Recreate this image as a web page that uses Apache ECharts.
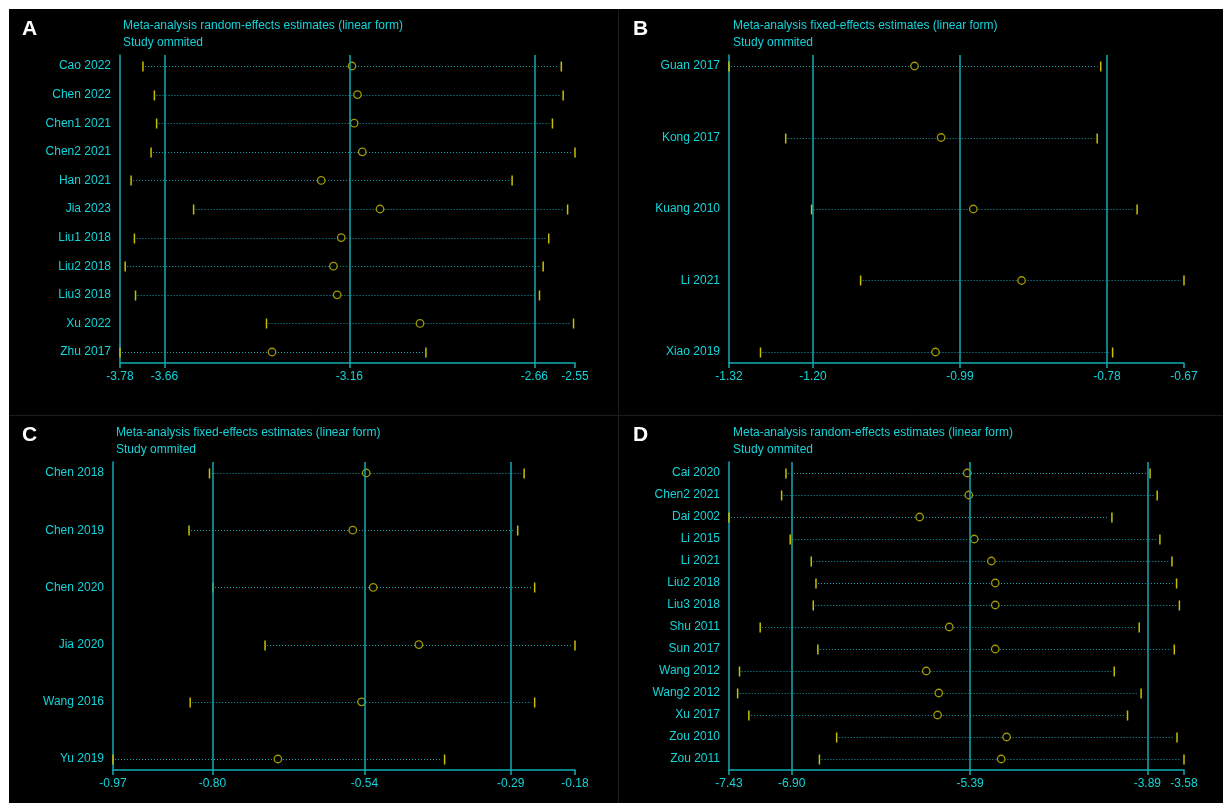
<!DOCTYPE html>
<html>
<head>
<meta charset="utf-8">
<script src="https://cdn.jsdelivr.net/npm/echarts@6/dist/echarts.min.js"></script>
<style>
  html, body { margin: 0; padding: 0; background: #fff; }
  #chart { width: 1223px; height: 803px; }
</style>
</head>
<body>
<div id="chart"></div>
<script>
// ---- Panel A: random-effects, study omitted ----
const namesA = ['Cao 2022', 'Chen 2022', 'Chen1 2021', 'Chen2 2021', 'Han 2021', 'Jia 2023',
                'Liu1 2018', 'Liu2 2018', 'Liu3 2018', 'Xu 2022', 'Zhu 2017'];
const lowA  = [-3.718, -3.687, -3.681, -3.696, -3.750, -3.581, -3.741, -3.766, -3.738, -3.384, -3.780];
const estA  = [-3.153, -3.138, -3.147, -3.125, -3.236, -3.077, -3.182, -3.203, -3.193, -2.969, -3.369];
const highA = [-2.587, -2.582, -2.611, -2.550, -2.720, -2.570, -2.621, -2.636, -2.646, -2.554, -2.953];
const refA  = [-3.66, -3.16, -2.66];
const ticksA = [-3.78, -3.66, -3.16, -2.66, -2.55];

// ---- Panel B: fixed-effects, study omitted ----
const namesB = ['Guan 2017', 'Kong 2017', 'Kuang 2010', 'Li 2021', 'Xiao 2019'];
const lowB  = [-1.320, -1.239, -1.202, -1.132, -1.275];
const estB  = [-1.055, -1.017, -0.971, -0.902, -1.025];
const highB = [-0.789, -0.794, -0.737, -0.670, -0.772];
const refB  = [-1.20, -0.99, -0.78];
const ticksB = [-1.32, -1.20, -0.99, -0.78, -0.67];

// ---- Panel C: fixed-effects, study omitted ----
const namesC = ['Chen 2018', 'Chen 2019', 'Chen 2020', 'Jia 2020', 'Wang 2016', 'Yu 2019'];
const lowC  = [-0.805, -0.840, -0.799, -0.710, -0.838, -0.970];
const estC  = [-0.537, -0.560, -0.525, -0.447, -0.545, -0.688];
const highC = [-0.267, -0.278, -0.249, -0.180, -0.249, -0.403];
const refC  = [-0.80, -0.54, -0.29];
const ticksC = [-0.97, -0.80, -0.54, -0.29, -0.18];

// ---- Panel D: random-effects, study omitted ----
const namesD = ['Cai 2020', 'Chen2 2021', 'Dai 2002', 'Li 2015', 'Li 2021', 'Liu2 2018', 'Liu3 2018',
                'Shu 2011', 'Sun 2017', 'Wang 2012', 'Wang2 2012', 'Xu 2017', 'Zou 2010', 'Zou 2011'];
const lowD  = [-6.948, -6.985, -7.430, -6.912, -6.734, -6.694, -6.717, -7.166, -6.678, -7.341, -7.357, -7.262, -6.519, -6.665];
const estD  = [-5.414, -5.401, -5.817, -5.355, -5.210, -5.177, -5.177, -5.566, -5.177, -5.761, -5.655, -5.665, -5.081, -5.127];
const highD = [-3.867, -3.807, -4.190, -3.784, -3.682, -3.643, -3.619, -3.959, -3.662, -4.170, -3.943, -4.058, -3.639, -3.580];
const refD  = [-6.90, -5.39, -3.89];
const ticksD = [-7.43, -6.90, -5.39, -3.89, -3.58];

const titleRandom = 'Meta-analysis random-effects estimates (linear form)';
const titleFixed = 'Meta-analysis fixed-effects estimates (linear form)';
const subTitle = 'Study ommited';

// colours
const CYAN_TEXT = '#14d4da';
const CYAN_LINE = '#13aab2';
const DOT_LINE = '#15a2aa';
const YELLOW = '#c8c000';
const FONT = '"Liberation Sans", Arial, sans-serif';

// panel geometry (page pixels): plot box and header placement
const panels = [
  { letter: 'A', title: titleRandom, names: namesA, low: lowA, est: estA, high: highA, refs: refA, ticks: ticksA,
    box: { x0: 120, x1: 575, y0: 55, y1: 363 }, letterX: 22, letterY: 29, titleX: 123, titleY: 26 },
  { letter: 'B', title: titleFixed, names: namesB, low: lowB, est: estB, high: highB, refs: refB, ticks: ticksB,
    box: { x0: 729, x1: 1184, y0: 55, y1: 363 }, letterX: 633, letterY: 29, titleX: 733, titleY: 26 },
  { letter: 'C', title: titleFixed, names: namesC, low: lowC, est: estC, high: highC, refs: refC, ticks: ticksC,
    box: { x0: 113, x1: 575, y0: 462, y1: 770 }, letterX: 22, letterY: 435, titleX: 116, titleY: 433 },
  { letter: 'D', title: titleRandom, names: namesD, low: lowD, est: estD, high: highD, refs: refD, ticks: ticksD,
    box: { x0: 729, x1: 1184, y0: 462, y1: 770 }, letterX: 633, letterY: 435, titleX: 733, titleY: 433 }
];

const W = 1223, H = 803;
const grids = [], xAxes = [], yAxes = [], series = [], graphics = [];

// white margin strips and faint panel separators
graphics.push({ type: 'rect', shape: { x: 0, y: 0, width: W, height: 9 }, style: { fill: '#fff' }, silent: true });
graphics.push({ type: 'rect', shape: { x: 0, y: 0, width: 9, height: H }, style: { fill: '#fff' }, silent: true });
graphics.push({ type: 'line', shape: { x1: 618.5, y1: 9, x2: 618.5, y2: H }, style: { stroke: '#1c1c1c', lineWidth: 1 }, silent: true });
graphics.push({ type: 'line', shape: { x1: 9, y1: 415.5, x2: W, y2: 415.5 }, style: { stroke: '#1c1c1c', lineWidth: 1 }, silent: true });

panels.forEach((p, i) => {
  const n = p.names.length;
  const b = p.box;
  // rows sit 11px inside the plot box at top and bottom
  const spacing = (b.y1 - b.y0 - 22) / (n - 1);
  const pad = 11 / spacing;

  grids.push({ left: b.x0, top: b.y0, width: b.x1 - b.x0, height: b.y1 - b.y0, containLabel: false });

  xAxes.push({
    type: 'value', gridIndex: i,
    min: p.ticks[0], max: p.ticks[p.ticks.length - 1],
    axisLine: { show: true, onZero: false, lineStyle: { color: CYAN_LINE, width: 1.5 } },
    axisTick: { show: true, customValues: p.ticks, length: 5, lineStyle: { color: CYAN_LINE, width: 1.5 } },
    axisLabel: { customValues: p.ticks, formatter: v => v.toFixed(2), color: CYAN_TEXT,
                 fontFamily: FONT, fontSize: 12, margin: 8, showMinLabel: true, showMaxLabel: true },
    splitLine: { show: false }
  });

  yAxes.push({
    type: 'value', gridIndex: i, inverse: true,
    min: -pad, max: n - 1 + pad,
    axisLine: { show: true, onZero: false, lineStyle: { color: CYAN_LINE, width: 1.5 } },
    axisTick: { show: false },
    axisLabel: { customValues: p.names.map((_, k) => k), formatter: v => p.names[Math.round(v)] || '',
                 color: CYAN_TEXT, fontFamily: FONT, fontSize: 12, margin: 9 },
    splitLine: { show: false }
  });

  // confidence intervals: dotted span with end caps
  const ciData = p.names.map((_, k) => [p.low[k], p.high[k], k]);
  series.push({
    type: 'custom', xAxisIndex: i, yAxisIndex: i, silent: true, z: 2,
    encode: { x: [0, 1], y: 2 },
    data: ciData,
    renderItem: (params, api) => {
      const a = api.coord([api.value(0), api.value(2)]);
      const c = api.coord([api.value(1), api.value(2)]);
      const y = Math.round(a[1]) + 0.5;
      return {
        type: 'group',
        children: [
          { type: 'line', shape: { x1: a[0] + 2, y1: y, x2: c[0] - 3, y2: y },
            style: { stroke: DOT_LINE, lineWidth: 1, lineDash: [1, 2] } },
          { type: 'line', shape: { x1: a[0], y1: y - 5, x2: a[0], y2: y + 5 },
            style: { stroke: YELLOW, lineWidth: 1.5 } },
          { type: 'line', shape: { x1: c[0], y1: y - 5, x2: c[0], y2: y + 5 },
            style: { stroke: YELLOW, lineWidth: 1.5 } }
        ]
      };
    }
  });

  // point estimates with overall estimate and its limits as reference lines
  series.push({
    type: 'scatter', xAxisIndex: i, yAxisIndex: i, silent: true, z: 4,
    symbol: 'circle', symbolSize: 7.5,
    itemStyle: { color: '#000', borderColor: YELLOW, borderWidth: 1.3 },
    data: p.names.map((_, k) => [p.est[k], k]),
    markLine: {
      silent: true, symbol: ['none', 'none'], label: { show: false },
      lineStyle: { color: CYAN_LINE, width: 1.5, type: 'solid' },
      data: p.refs.map(v => ({ xAxis: v }))
    }
  });

  // panel letter and header
  graphics.push({ type: 'text', x: p.letterX, y: p.letterY, silent: true,
    style: { text: p.letter, fill: '#fff', font: 'bold 21px ' + FONT, verticalAlign: 'middle' } });
  graphics.push({ type: 'text', x: p.titleX, y: p.titleY, silent: true,
    style: { text: p.title, fill: CYAN_TEXT, font: '12px ' + FONT, verticalAlign: 'middle' } });
  graphics.push({ type: 'text', x: p.titleX, y: p.titleY + 16.5, silent: true,
    style: { text: subTitle, fill: CYAN_TEXT, font: '12px ' + FONT, verticalAlign: 'middle' } });
});

const chart = echarts.init(document.getElementById('chart'), null, { renderer: 'canvas' });
chart.setOption({
  backgroundColor: '#000',
  animation: false,
  grid: grids,
  xAxis: xAxes,
  yAxis: yAxes,
  series: series,
  graphic: graphics
});
</script>
</body>
</html>
